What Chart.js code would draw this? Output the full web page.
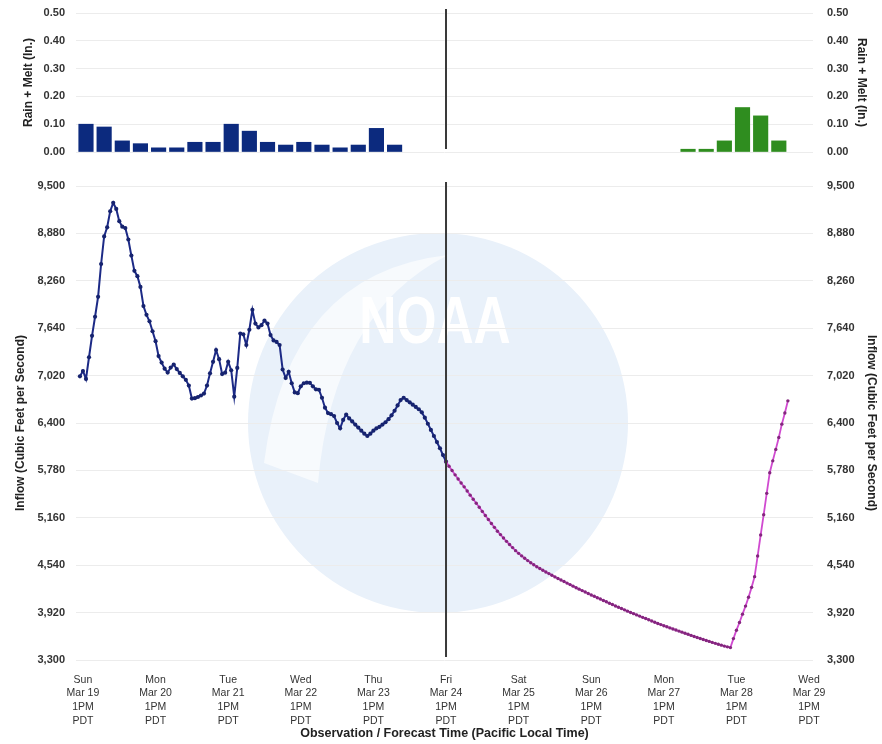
<!DOCTYPE html>
<html>
<head>
<meta charset="utf-8">
<title>Inflow</title>
<script src="https://cdn.jsdelivr.net/npm/chart.js@4.4.0/dist/chart.umd.min.js"></script>
<style>
  html, body { margin: 0; padding: 0; background: #fff; }
  #wrap { position: relative; width: 882px; height: 744px; overflow: hidden; }
  #rainBox { position: absolute; left: 0; top: 0; width: 882px; height: 170px; }
  #flowBox { position: absolute; left: 0; top: 170px; width: 882px; height: 574px; }
</style>
</head>
<body>
<div id="wrap">
  <div id="rainBox"><canvas id="rainChart"></canvas></div>
  <div id="flowBox"><canvas id="flowChart"></canvas></div>
</div>
<script>
// x axis is hours after Sun Mar 19 1PM PDT
const tickHours = [0, 24, 48, 72, 96, 120, 144, 168, 192, 216, 240];
const dayNames = ['Sun', 'Mon', 'Tue', 'Wed', 'Thu', 'Fri', 'Sat', 'Sun', 'Mon', 'Tue', 'Wed'];
const dayDates = ['Mar 19', 'Mar 20', 'Mar 21', 'Mar 22', 'Mar 23', 'Mar 24', 'Mar 25', 'Mar 26', 'Mar 27', 'Mar 28', 'Mar 29'];
const timeLabel = '1PM';
const zoneLabel = 'PDT';
const forecastStart = 120; // Fri Mar 24 1PM

// rain + melt (inches), 6-hour bars
const obsRainHours = [1, 7, 13, 19, 25, 31, 37, 43, 49, 55, 61, 67, 73, 79, 85, 91, 97, 103];
const obsRain = [0.10, 0.09, 0.04, 0.03, 0.015, 0.015, 0.035, 0.035, 0.10, 0.075, 0.035, 0.025, 0.035, 0.025, 0.015, 0.025, 0.085, 0.025];
const fcstRainHours = [200, 206, 212, 218, 224, 230];
const fcstRain = [0.01, 0.01, 0.04, 0.16, 0.13, 0.04];

// hourly inflow (cfs)
const obsStartHour = -1;
const obsFlow = [
  7010, 7080, 6976, 7260, 7540, 7790, 8050, 8480, 8840, 8960,
  9170, 9280, 9200, 9040, 8968, 8950, 8800, 8590, 8390, 8320,
  8180, 7930, 7815, 7730, 7600, 7470, 7275, 7190, 7110, 7060,
  7125, 7165, 7105, 7055, 7010, 6965, 6890, 6720, 6725, 6740,
  6760, 6785, 6890, 7050, 7200, 7355, 7235, 7040, 7058, 7200,
  7090, 6744, 7120, 7570, 7560, 7420, 7620, 7880, 7700, 7650,
  7680, 7740, 7700, 7550, 7480, 7460, 7420, 7100, 6990, 7070,
  6920, 6800, 6790, 6880, 6920, 6927, 6925, 6880, 6840, 6835,
  6730, 6600, 6530, 6515, 6490, 6400, 6330, 6440, 6510, 6460,
  6420, 6380, 6340, 6300, 6260, 6230, 6260, 6300, 6330, 6350,
  6380, 6410, 6450, 6500, 6560, 6630, 6700, 6730, 6700, 6670,
  6640, 6610, 6580, 6540, 6470, 6390, 6310, 6230, 6150, 6070,
  5980, 5894
];
const fcstStartHour = 120;
const fcstFlow = [
  5894, 5835, 5778, 5722, 5668, 5615, 5565, 5510, 5456, 5403,
  5350, 5298, 5244, 5190, 5137, 5085, 5035, 4985, 4940, 4895,
  4852, 4810, 4770, 4730, 4695, 4662, 4630, 4600, 4572, 4545,
  4520, 4496, 4474, 4452, 4430, 4408, 4387, 4366, 4346, 4326,
  4306, 4286, 4266, 4246, 4227, 4208, 4189, 4170, 4151, 4133,
  4115, 4097, 4079, 4061, 4043, 4025, 4007, 3990, 3973, 3956,
  3939, 3922, 3906, 3890, 3874, 3858, 3842, 3826, 3810, 3794,
  3778, 3763, 3748, 3734, 3720, 3706, 3692, 3678, 3664, 3650,
  3636, 3622, 3608, 3595, 3582, 3569, 3556, 3543, 3530, 3518,
  3506, 3494, 3482, 3472, 3462, 3580, 3690, 3790, 3900, 4005,
  4120, 4250, 4390, 4660, 4935, 5200, 5480, 5750, 5905, 6055,
  6210, 6385, 6530, 6690
];

const X_MIN = -2.3;
const X_MAX = 241.3;
const FONT = "'Liberation Sans', Arial, sans-serif";

Chart.defaults.font.family = FONT;
Chart.defaults.color = '#333';
Chart.defaults.animation = false;

// thin dark line that splits observation from forecast
const splitLine = {
  id: 'splitLine',
  afterDatasetsDraw(chart) {
    const x = chart.scales.x.getPixelForValue(forecastStart);
    const { top, bottom } = chart.chartArea;
    const ctx = chart.ctx;
    ctx.save();
    ctx.strokeStyle = '#3a3a3a';
    ctx.lineWidth = 2;
    ctx.beginPath();
    ctx.moveTo(x, top - 4);
    ctx.lineTo(x, bottom - 3);
    ctx.stroke();
    ctx.restore();
  }
};

// faded NOAA logo behind the inflow plot
const watermark = {
  id: 'watermark',
  beforeDraw(chart) {
    const ctx = chart.ctx;
    const cx = 438, cy = 253, r = 190;
    ctx.save();
    ctx.beginPath();
    ctx.arc(cx, cy, r, 0, Math.PI * 2);
    ctx.fillStyle = '#e9f1fa';
    ctx.fill();
    ctx.clip();
    // pale wing on the upper left
    ctx.beginPath();
    ctx.moveTo(cx - r + 16, cy + 40);
    ctx.quadraticCurveTo(cx - 150, cy - 150, cx + 10, cy - r + 22);
    ctx.quadraticCurveTo(cx - 105, cy - 110, cx - 120, cy + 60);
    ctx.closePath();
    ctx.fillStyle = '#f7fafd';
    ctx.fill();
    ctx.translate(cx - 3, cy - 98);
    ctx.scale(0.78, 1);
    ctx.fillStyle = '#ffffff';
    ctx.font = "bold 66px " + FONT;
    ctx.textAlign = 'center';
    ctx.textBaseline = 'middle';
    ctx.fillText('NOAA', 0, 0);
    ctx.restore();
  }
};

function yWidth(w) {
  return function (scale) { scale.width = w; };
}

// tick gap is done with an invisible tick mark, so tick padding does not push the plot down
function valueAxis(pos, min, max, step, gap, width, fmt, titleText, titleGap, showGrid) {
  return {
    position: pos, min: min, max: max, display: true,
    afterFit: yWidth(width),
    ticks: { stepSize: step, padding: 0, color: '#333', font: { size: 11, weight: 'bold' }, callback: fmt },
    grid: { display: true, color: showGrid ? '#ececec' : 'rgba(0,0,0,0)', drawOnChartArea: showGrid,
      drawTicks: true, tickLength: gap, tickColor: 'rgba(0,0,0,0)' },
    border: { display: false },
    title: { display: true, text: titleText, color: '#222',
      font: { size: 12, weight: 'bold' }, padding: { top: titleGap, bottom: 0 } }
  };
}

const rainFmt = v => v.toFixed(2);
const flowFmt = v => v.toLocaleString('en-US');

// ---- top: rain + melt ----
new Chart(document.getElementById('rainChart'), {
  type: 'bar',
  data: {
    datasets: [
      {
        data: obsRainHours.map((h, i) => ({ x: h, y: obsRain[i] })),
        backgroundColor: '#0c2a7e',
        barThickness: 14.5,
        grouped: false
      },
      {
        data: fcstRainHours.map((h, i) => ({ x: h, y: fcstRain[i] })),
        backgroundColor: '#2f8d1f',
        barThickness: 14.5,
        grouped: false
      }
    ]
  },
  options: {
    responsive: true,
    maintainAspectRatio: false,
    layout: { padding: { top: 13, bottom: 18, left: 0, right: 0 } },
    plugins: { legend: { display: false }, tooltip: { enabled: false } },
    scales: {
      x: { type: 'linear', min: X_MIN, max: X_MAX, offset: false, display: false },
      y: valueAxis('left', 0, 0.5, 0.1, 11, 76, rainFmt, 'Rain + Melt (In.)', 21, true),
      y2: valueAxis('right', 0, 0.5, 0.1, 14, 69, rainFmt, 'Rain + Melt (In.)', 13, false)
    }
  },
  plugins: [splitLine]
});

// ---- bottom: inflow ----
new Chart(document.getElementById('flowChart'), {
  type: 'line',
  data: {
    datasets: [
      {
        data: fcstFlow.map((v, i) => ({ x: fcstStartHour + i, y: v })),
        borderColor: '#d04ad0',
        borderWidth: 1.8,
        pointRadius: 1.7,
        pointBorderWidth: 0,
        pointBackgroundColor: '#84267e',
        tension: 0
      },
      {
        data: obsFlow.map((v, i) => ({ x: obsStartHour + i, y: v })),
        borderColor: '#1c2a86',
        borderWidth: 2,
        pointRadius: 2.1,
        pointBorderWidth: 0,
        pointBackgroundColor: '#16236f',
        tension: 0
      }
    ]
  },
  options: {
    responsive: true,
    maintainAspectRatio: false,
    layout: { padding: { top: 16, bottom: 0, left: 0, right: 0 } },
    plugins: { legend: { display: false }, tooltip: { enabled: false } },
    scales: {
      x: {
        type: 'linear', min: X_MIN, max: X_MAX,
        afterFit: scale => { scale.height = 84; },
        afterBuildTicks: scale => { scale.ticks = tickHours.map(v => ({ value: v })); },
        ticks: {
          autoSkip: false, maxRotation: 0, padding: 5, color: '#333',
          font: { size: 10.5, lineHeight: 1.3 },
          callback: v => {
            const i = tickHours.indexOf(v);
            return i < 0 ? '' : [dayNames[i], dayDates[i], timeLabel, zoneLabel];
          }
        },
        grid: { display: false },
        border: { display: false },
        title: { display: true, text: 'Observation / Forecast Time (Pacific Local Time)', color: '#222',
          font: { size: 12.5, weight: 'bold' }, padding: { top: 0, bottom: 3 } }
      },
      y: valueAxis('left', 3300, 9500, 620, 11, 76, flowFmt, 'Inflow (Cubic Feet per Second)', 13, true),
      y2: valueAxis('right', 3300, 9500, 620, 14, 69, flowFmt, 'Inflow (Cubic Feet per Second)', 3, false)
    }
  },
  plugins: [watermark, splitLine]
});
</script>
</body>
</html>
